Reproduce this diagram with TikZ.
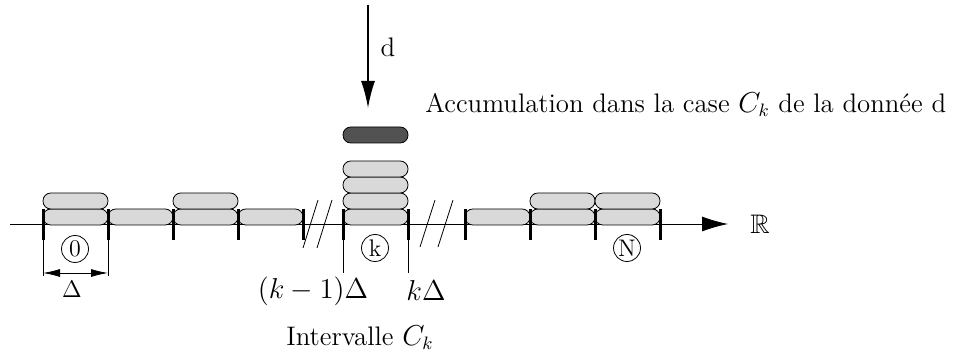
\documentclass[tikz,border=0pt]{standalone}
\usepackage{amssymb}
\usetikzlibrary{arrows.meta}
\begin{document}
\begin{tikzpicture}[x=0.5pt,y=-0.5pt,
  font=\fontsize{13.4}{16}\selectfont,
  cell/.style={draw=black,line width=0.4pt,fill=black!15,rounded corners=3.9pt},
  newcell/.style={draw=black,line width=0.4pt,fill=black!68,rounded corners=3.9pt},
  tick/.style={line width=1.5pt},
  thin/.style={line width=0.4pt},
  brk/.style={line width=0.4pt},
  num/.style={circle,draw,line width=0.4pt,minimum size=13.5pt,inner sep=0pt,font=\fontsize{12}{14}\selectfont},
  lbl/.style={inner sep=0pt}]
\useasboundingbox (0,0) rectangle (961,356);
% axis
\coordinate (a0) at (10,224);
\coordinate (a1) at (728,224);
\draw[thin,-{Latex[length=13pt,width=7.5pt]}] (a0) -- (a1);
\node[lbl] (R) at (760,224) {$\mathbb{R}$};
% cells
\foreach \xa/\xb/\n in {43/108/2,108/173/1,173/238/2,238/303/1,343/408/4,465/530/1,530/595/2,595/660/2}{
  \foreach \i in {1,...,\n}{
    \draw[cell] (\xa,{225-16*(\i-1)}) rectangle (\xb,{209-16*(\i-1)});
  }
}
\draw[newcell] (343,143) rectangle (408,127);
% ticks
\foreach \x in {43,108,173,238,303,343,408,465,530,595,660}{
  \draw[tick] (\x,209) -- (\x,240);
}
% breaks
\draw[brk] (303,248) -- (318,200);
\draw[brk] (317,248) -- (332,200);
\draw[brk] (420,247) -- (435,200);
\draw[brk] (438,247) -- (453,200);
% numbered cells
\node[num] (c0) at (75,249) {0};
\node[num] (ck) at (375,248) {k};
\node[num] (cN) at (627,248) {N};
% Delta dimension
\coordinate (d0) at (43,240);
\coordinate (d1) at (108,240);
\coordinate (d0b) at (43,276);
\coordinate (d1b) at (108,276);
\draw[thin] (d0) -- (d0b);
\draw[thin] (d1) -- (d1b);
\coordinate (e0) at (43,273);
\coordinate (e1) at (108,273);
\draw[thin,{Latex[length=8.5pt,width=4pt]}-{Latex[length=8.5pt,width=4pt]}] (e0) -- (e1);
\node[lbl,font=\fontsize{12}{14}\selectfont] (delta) at (72,289) {$\Delta$};
% k interval
\coordinate (k0) at (343,240);
\coordinate (k1) at (408,240);
\coordinate (k0b) at (343,273);
\coordinate (k1b) at (408,273);
\draw[thin] (k0) -- (k0b);
\draw[thin] (k1) -- (k1b);
\node[lbl] (km1) at (313,291) {$(k-1)\Delta$};
\node[lbl] (kd) at (426,291) {$k\Delta$};
\node[lbl] (interv) at (360,338) {Intervalle $C_k$};
% data arrow
\coordinate (s) at (368,5);
\coordinate (t) at (368,108);
\draw[line width=0.8pt,-{Latex[length=13.5pt,width=7pt]}] (s) -- (t);
\node[lbl] (d) at (388,47) {d};
\node[lbl,anchor=west] (acc) at (425,105) {Accumulation dans la case $C_k$ de la donnée d};
\end{tikzpicture}
\end{document}
